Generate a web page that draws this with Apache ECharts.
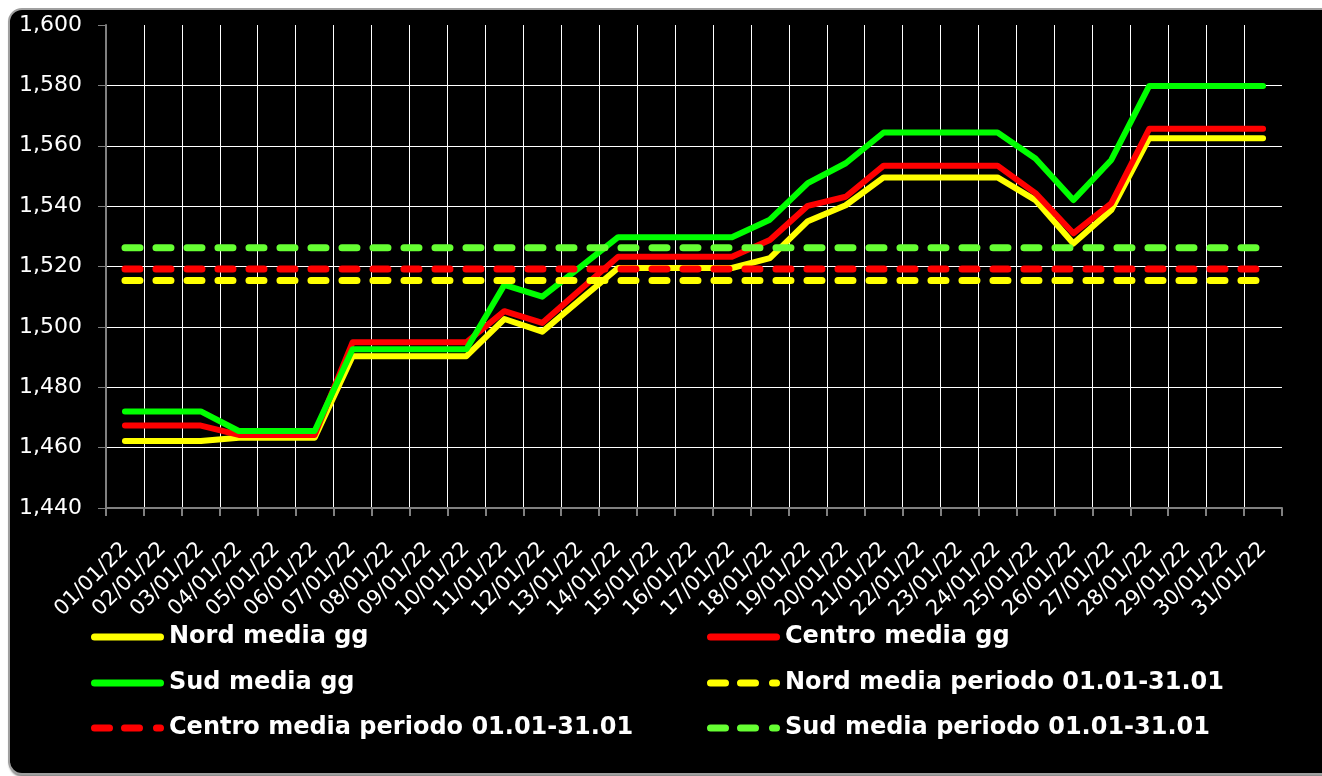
<!DOCTYPE html>
<html>
<head>
<meta charset="utf-8">
<script src="https://cdn.jsdelivr.net/npm/echarts@6/dist/echarts.min.js"></script>
<style>
  html, body { margin: 0; padding: 0; background: #ffffff; width: 1322px; height: 776px; overflow: hidden; }
  #bg { position: absolute; left: 8px; top: 8px; width: 1330px; height: 763px; background: #000; border: 2px solid #a0a0a0; border-radius: 14px; box-shadow: 1px 2px 2px #888; }
  #chart { position: absolute; left: 0; top: 0; width: 1322px; height: 776px; }
</style>
</head>
<body>
<div id="bg"></div>
<div id="chart"></div>
<script>
const categories = ['01/01/22','02/01/22','03/01/22','04/01/22','05/01/22','06/01/22','07/01/22','08/01/22','09/01/22','10/01/22',
  '11/01/22','12/01/22','13/01/22','14/01/22','15/01/22','16/01/22','17/01/22','18/01/22','19/01/22','20/01/22',
  '21/01/22','22/01/22','23/01/22','24/01/22','25/01/22','26/01/22','27/01/22','28/01/22','29/01/22','30/01/22','31/01/22'];

const nordGg = [1462.2,1462.2,1462.2,1463.3,1463.3,1463.3,1490.3,1490.3,1490.3,1490.3,1502.6,1498.4,1509.0,1519.5,1519.5,1519.5,1519.5,1522.8,1535.0,1540.3,1549.5,1549.5,1549.5,1549.5,1542.0,1527.6,1538.7,1562.5,1562.5,1562.5,1562.5];
const centroGg = [1467.3,1467.3,1467.3,1464.2,1464.2,1464.2,1494.9,1494.9,1494.9,1494.9,1505.2,1501.3,1512.3,1523.2,1523.2,1523.2,1523.2,1528.8,1540.1,1543.1,1553.4,1553.4,1553.4,1553.4,1544.3,1531.0,1540.9,1565.6,1565.6,1565.6,1565.6];
const sudGg = [1472.0,1472.0,1472.0,1465.5,1465.5,1465.5,1492.6,1492.6,1492.6,1492.6,1513.9,1510.0,1519.8,1529.7,1529.7,1529.7,1529.7,1535.5,1547.6,1554.2,1564.4,1564.4,1564.4,1564.4,1555.8,1542.0,1555.3,1579.8,1579.8,1579.8,1579.8];

const nordPeriodMean = 1515.4;
const centroPeriodMean = 1519.2;
const sudPeriodMean = 1526.2;

const seriesNames = ['Nord media gg','Centro media gg','Sud media gg',
  'Nord media periodo 01.01-31.01','Centro media periodo 01.01-31.01','Sud media periodo 01.01-31.01'];

const yTicks = { min: 1440, max: 1600, interval: 20 };

const flat = v => categories.map(() => v);
const legendFont = '"DejaVu Sans", sans-serif';

const solidIcon = 'path://M3.5,0H69.5A3.5,3.5,0,0,1,69.5,7H3.5A3.5,3.5,0,0,1,3.5,0Z';
const dashIcon = 'path://M3.5,0H18.5A3.5,3.5,0,0,1,18.5,7H3.5A3.5,3.5,0,0,1,3.5,0Z' +
  'M33.5,0H48.5A3.5,3.5,0,0,1,48.5,7H33.5A3.5,3.5,0,0,1,33.5,0Z' +
  'M65.5,0H69.5A3.5,3.5,0,0,1,69.5,7H65.5A3.5,3.5,0,0,1,65.5,0Z';

function solid(name, data, color) {
  return { name, type: 'line', data, symbol: 'none', smooth: false,
    lineStyle: { color, width: 6, cap: 'round', join: 'round' }, itemStyle: { color },
    emphasis: { disabled: true }, animation: false };
}
function dashed(name, value, color) {
  return { name, type: 'line', data: flat(value), symbol: 'none',
    lineStyle: { color, width: 7, type: [15, 16], cap: 'round' }, itemStyle: { color },
    emphasis: { disabled: true }, animation: false };
}

const legendPos = [
  [91, 637], [707, 637],
  [91, 683], [707, 683],
  [91, 728], [707, 728]
];
const legendIcons = [solidIcon, solidIcon, solidIcon, dashIcon, dashIcon, dashIcon];

const chart = echarts.init(document.getElementById('chart'), null, { renderer: 'canvas' });
chart.setOption({
  backgroundColor: 'transparent',
  animation: false,
  grid: { left: 106, right: 40, top: 25, bottom: 268, containLabel: false },
  legend: seriesNames.map((name, k) => ({
    data: [{ name, icon: legendIcons[k] }],
    left: legendPos[k][0], top: legendPos[k][1] - 14,
    itemWidth: 73, itemHeight: 7,
    padding: 0,
    selectedMode: false,
    itemStyle: { borderWidth: 0 },
    textStyle: { color: '#fff', fontSize: 24, fontWeight: 'bold', fontFamily: legendFont, lineHeight: 28 }
  })),
  xAxis: {
    type: 'category', data: categories, boundaryGap: true,
    axisLine: { show: true, lineStyle: { color: '#808080', width: 2 } },
    axisTick: { show: true, interval: 0, length: 8, lineStyle: { color: '#808080', width: 2 } },
    axisLabel: { interval: 0, rotate: 45, color: '#fff', fontSize: 21, margin: 38, padding: [26, 0, 0, 0], fontFamily: '"DejaVu Sans", sans-serif' },
    splitLine: { show: true, interval: 0, showMinLine: false, showMaxLine: false, lineStyle: { color: '#fff', width: 1 } }
  },
  yAxis: {
    type: 'value', min: yTicks.min, max: yTicks.max, interval: yTicks.interval,
    axisLine: { show: true, lineStyle: { color: '#808080', width: 2 } },
    axisTick: { show: true, length: 8, lineStyle: { color: '#808080', width: 1 } },
    axisLabel: { color: '#fff', fontSize: 22, margin: 24, fontFamily: '"DejaVu Sans", sans-serif',
      formatter: v => { const s = String(Math.round(v)); return s.slice(0, 1) + ',' + s.slice(1); } },
    splitLine: { show: true, showMinLine: false, showMaxLine: false, lineStyle: { color: '#fff', width: 1 } }
  },
  series: [
    solid(seriesNames[0], nordGg, '#ffff00'),
    solid(seriesNames[1], centroGg, '#ff0000'),
    solid(seriesNames[2], sudGg, '#00ff00'),
    dashed(seriesNames[3], nordPeriodMean, '#ffff00'),
    dashed(seriesNames[4], centroPeriodMean, '#ff0000'),
    dashed(seriesNames[5], sudPeriodMean, '#66ff33')
  ]
});
</script>
</body>
</html>
